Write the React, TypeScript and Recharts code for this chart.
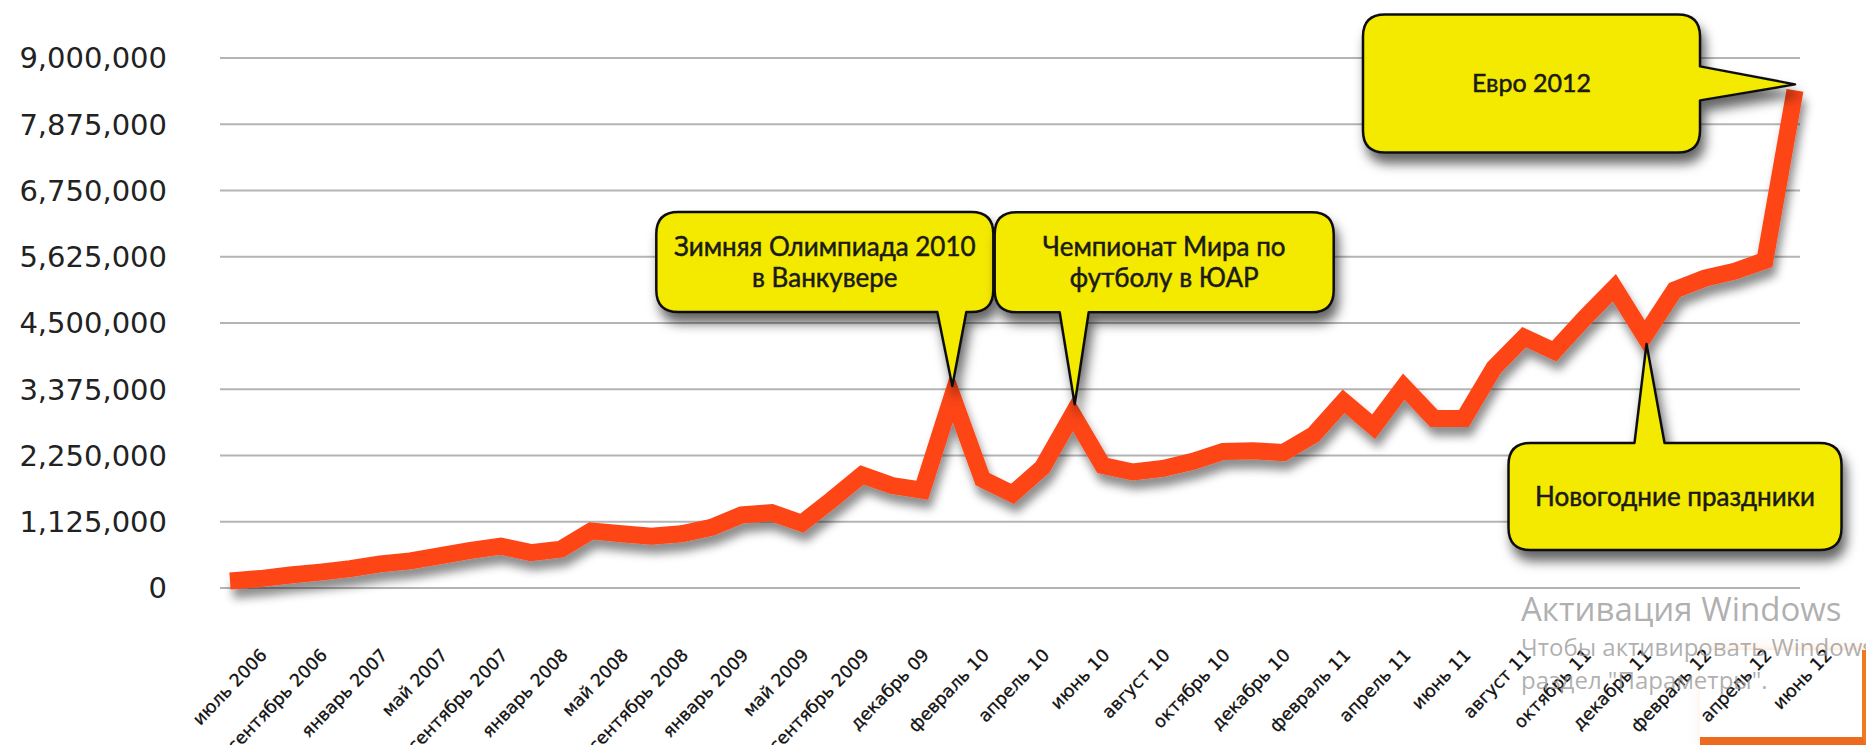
import { LineChart, Line, XAxis, YAxis, CartesianGrid, ReferenceDot } from 'recharts';

// points on the chart, labelled every second one on the axis
const months = [
  'июль 2006', 'август 2006', 'сентябрь 2006', 'ноябрь 2006', 'январь 2007', 'март 2007',
  'май 2007', 'июль 2007', 'сентябрь 2007', 'ноябрь 2007', 'январь 2008', 'март 2008',
  'май 2008', 'июль 2008', 'сентябрь 2008', 'ноябрь 2008', 'январь 2009', 'март 2009',
  'май 2009', 'июль 2009', 'сентябрь 2009', 'октябрь 09', 'декабрь 09', 'январь 10',
  'февраль 10', 'март 10', 'апрель 10', 'май 10', 'июнь 10', 'июль 10',
  'август 10', 'сентябрь 10', 'октябрь 10', 'ноябрь 10', 'декабрь 10', 'январь 11',
  'февраль 11', 'март 11', 'апрель 11', 'май 11', 'июнь 11', 'июль 11',
  'август 11', 'сентябрь 11', 'октябрь 11', 'ноябрь 11', 'декабрь 11', 'январь 12',
  'февраль 12', 'март 12', 'апрель 12', 'май 12', 'июнь 12',
];

const visitors = [
  120000, 160000, 220000, 270000, 330000, 410000,
  460000, 550000, 640000, 710000, 600000, 660000,
  970000, 920000, 880000, 920000, 1030000, 1240000,
  1280000, 1100000, 1500000, 1920000, 1740000, 1660000,
  3260000, 1850000, 1600000, 2050000, 2950000, 2080000,
  1970000, 2030000, 2150000, 2320000, 2330000, 2300000,
  2600000, 3170000, 2740000, 3420000, 2880000, 2880000,
  3740000, 4260000, 4020000, 4580000, 5100000, 4280000,
  5060000, 5260000, 5380000, 5560000, 8450000,
];

const yTicks = [0, 1125000, 2250000, 3375000, 4500000, 5625000, 6750000, 7875000, 9000000];

// annotated events
const eventMonths = ['февраль 10', 'июнь 10', 'июнь 12', 'январь 12'];
const eventTexts = [
  ['Зимняя Олимпиада 2010', 'в Ванкувере'],
  ['Чемпионат Мира по', 'футболу в ЮАР'],
  ['Евро 2012'],
  ['Новогодние праздники'],
];

const data = months.map((month, i) => ({ month, visitors: visitors[i] }));

// callout shapes, relative to the data point they point at
type Side = 'top' | 'bottom' | 'right';
interface CalloutSpec {
  l: number; t: number; r: number; b: number;
  side: Side; p1: number; p2: number;
  tx: number; ty: number;
  fontSize: number;
}

const calloutSpecs: CalloutSpec[] = [
  { l: -296, t: -184, r: 41, b: -84, side: 'bottom', p1: -15, p2: 14, tx: 0, ty: -10, fontSize: 26 },
  { l: -78, t: -202, r: 261, b: -102, side: 'bottom', p1: -13, p2: 16, tx: 2, ty: -10, fontSize: 26 },
  { l: -432, t: -76, r: -95, b: 62, side: 'right', p1: -24, p2: 10, tx: 0, ty: -6, fontSize: 25 },
  { l: -136, t: 107, r: 197, b: 214, side: 'top', p1: -10, p2: 20, tx: 2, ty: 8, fontSize: 26 },
];

const YELLOW = '#f4ea00';
const LINE_COLOR = '#fd4417';

function calloutPath(s: CalloutSpec) {
  const rr = 22;
  const { l, t, r, b, side, p1, p2, tx, ty } = s;
  let d = `M${l + rr},${t}`;
  if (side === 'top') d += ` L${p1},${t} L${tx},${ty} L${p2},${t}`;
  d += ` L${r - rr},${t} Q${r},${t} ${r},${t + rr}`;
  if (side === 'right') d += ` L${r},${p1} L${tx},${ty} L${r},${p2}`;
  d += ` L${r},${b - rr} Q${r},${b} ${r - rr},${b}`;
  if (side === 'bottom') d += ` L${p2},${b} L${tx},${ty} L${p1},${b}`;
  d += ` L${l + rr},${b} Q${l},${b} ${l},${b - rr} L${l},${t + rr} Q${l},${t} ${l + rr},${t} Z`;
  return d;
}

function Callout({ cx, cy, spec, lines }: { cx: number; cy: number; spec: CalloutSpec; lines: string[] }) {
  const midX = (spec.l + spec.r) / 2;
  const midY = (spec.t + spec.b) / 2;
  const lineH = 31;
  const firstY = midY - ((lines.length - 1) * lineH) / 2 + spec.fontSize * 0.35;
  return (
    <g transform={`translate(${cx},${cy})`}>
      <path d={calloutPath(spec)} fill={YELLOW} stroke="#111" strokeWidth={2.5} strokeLinejoin="round" filter="url(#boxShadow)" />
      {lines.map((line, i) => (
        <text
          key={i}
          x={midX}
          y={firstY + i * lineH}
          textAnchor="middle"
          fontFamily="Lato"
          fontSize={spec.fontSize}
          fill="#1a1a1a"
          stroke="#1a1a1a"
          strokeWidth={0.5}
        >
          {line}
        </text>
      ))}
    </g>
  );
}

const XTick = (props: any) => {
  const { x, y, payload } = props;
  return (
    <text
      transform={`translate(${x + 38},${y + 66}) rotate(-46)`}
      textAnchor="end"
      fontFamily="DejaVu Sans"
      fontSize={17.5}
      fill="#111"
      stroke="#111"
      strokeWidth={0.3}
    >
      {payload.value}
    </text>
  );
};

const formatNumber = (v: number) => v.toLocaleString('en-US');

const YTick = (props: any) => {
  const { x, y, payload } = props;
  return (
    <text x={x} y={y} dy="0.36em" textAnchor="end" fontFamily="DejaVu Sans" fontSize={29} fill="#222">
      {formatNumber(payload.value)}
    </text>
  );
};

export default function App() {
  return (
    <div style={{ position: 'fixed', left: 0, top: 0, width: 1866, height: 745, overflow: 'hidden', background: '#fff' }}>
      <LineChart width={1866} height={745} data={data} margin={{ top: 58, right: 66, bottom: 0, left: 0 }}>
        <defs>
          <filter id="lineShadow" x="-5%" y="-20%" width="110%" height="150%">
            <feDropShadow dx="3" dy="9" stdDeviation="5" floodColor="#000" floodOpacity="0.45" />
          </filter>
          <filter id="boxShadow" x="-20%" y="-20%" width="140%" height="160%">
            <feDropShadow dx="4" dy="10" stdDeviation="6" floodColor="#000" floodOpacity="0.6" />
          </filter>
        </defs>
        <CartesianGrid vertical={false} stroke="#b4b4b4" strokeWidth={2} />
        <XAxis
          dataKey="month"
          interval={1}
          height={157}
          tickLine={false}
          tickSize={0}
          padding={{ left: 10, right: 5 }}
          axisLine={{ stroke: '#3a3a3a', strokeWidth: 3, filter: 'url(#lineShadow)' }}
          tick={<XTick />}
        />
        <YAxis
          width={220}
          domain={[0, 9000000]}
          ticks={yTicks}
          axisLine={false}
          tickLine={false}
          tickSize={0}
          tickMargin={53}
          tick={<YTick />}
        />
        <Line
          type="linear"
          dataKey="visitors"
          stroke={LINE_COLOR}
          strokeWidth={17}
          dot={false}
          activeDot={false}
          filter="url(#lineShadow)"
          isAnimationActive={false}
        />
        {eventMonths.map((m, i) => (
          <ReferenceDot
            key={m}
            x={m}
            y={visitors[months.indexOf(m)]}
            ifOverflow="visible"
            shape={(p: any) => <Callout cx={p.cx} cy={p.cy} spec={calloutSpecs[i]} lines={eventTexts[i]} />}
          />
        ))}
      </LineChart>
      <div
        style={{
          position: 'absolute',
          left: 1521,
          top: 588,
          color: 'rgba(150,150,150,0.75)',
          fontFamily: 'Open Sans',
          whiteSpace: 'nowrap',
          pointerEvents: 'none',
        }}
      >
        <div style={{ fontSize: 33, lineHeight: '42px' }}>Активация Windows</div>
        <div style={{ fontSize: 24, lineHeight: '33px' }}>Чтобы активировать Windows, перейдите в</div>
        <div style={{ fontSize: 24, lineHeight: '33px' }}>раздел "Параметры".</div>
      </div>
      <div
        style={{
          position: 'absolute',
          left: 1700,
          top: 650,
          width: 162,
          height: 87,
          borderRight: '4px solid #ee7a22',
          borderBottom: '8px solid #ee6a1e',
          boxShadow: '6px 4px 12px rgba(240,120,40,0.5)',
          pointerEvents: 'none',
        }}
      />
    </div>
  );
}
